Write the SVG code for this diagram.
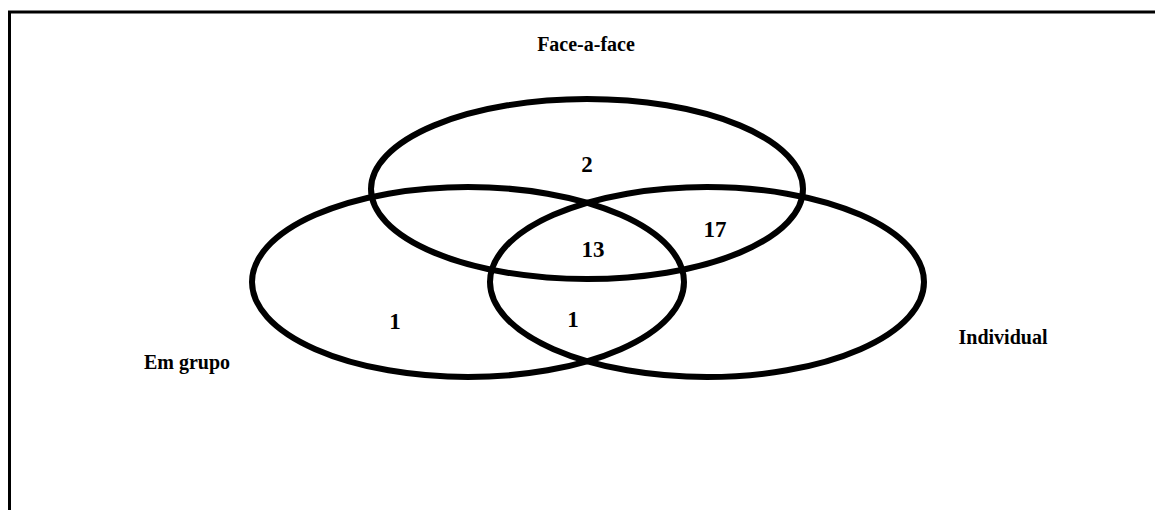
<svg xmlns="http://www.w3.org/2000/svg" width="1155" height="510" viewBox="0 0 1155 510">
<style>
.set{fill:none;stroke:#000;stroke-width:6}
.lbl{font-family:"Liberation Serif","Times New Roman",serif;font-weight:bold;fill:#000;text-anchor:middle}
.big{font-size:20px}
.num{font-size:23px}
</style>
<rect width="1155" height="510" fill="#fff"/>
<g id="frame"><path d="M9.5 510 V12 H1155" fill="none" stroke="#000" stroke-width="3"/></g>
<g id="face-a-face"><ellipse class="set" cx="587" cy="189" rx="216" ry="90"/><text class="lbl big" x="586" y="51">Face-a-face</text></g>
<g id="em-grupo"><ellipse class="set" cx="468" cy="282" rx="216" ry="95"/><text class="lbl big" x="187" y="369">Em grupo</text></g>
<g id="individual"><ellipse class="set" cx="707" cy="282" rx="217" ry="95"/><text class="lbl big" x="1003" y="344">Individual</text></g>
<g id="counts">
<text class="lbl num" x="587" y="172">2</text>
<text class="lbl num" x="593" y="257">13</text>
<text class="lbl num" x="715" y="237">17</text>
<text class="lbl num" x="395" y="329">1</text>
<text class="lbl num" x="573" y="327">1</text>
</g>
<g id="connectors"/>
</svg>
